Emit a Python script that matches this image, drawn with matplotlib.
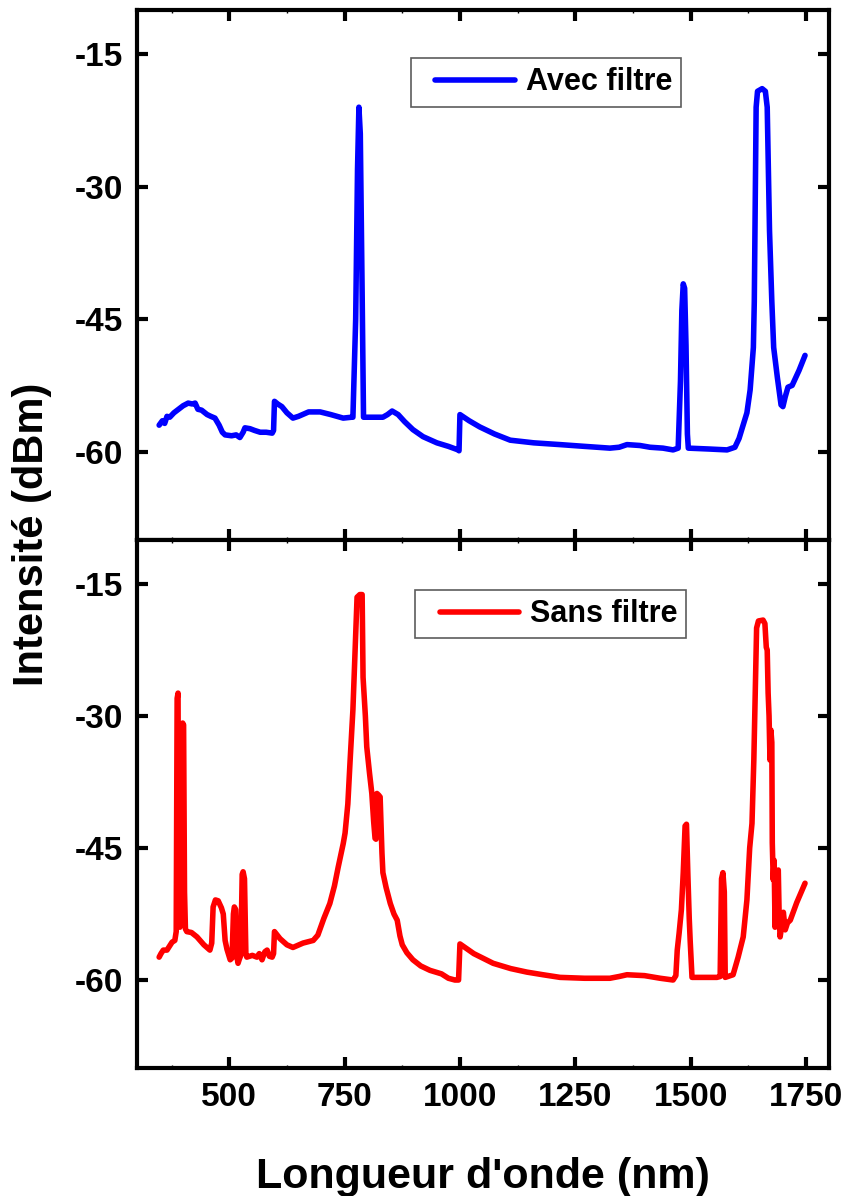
import matplotlib
matplotlib.use("Agg")
import matplotlib.pyplot as plt
from matplotlib.ticker import MultipleLocator
from matplotlib.legend_handler import HandlerLine2D

plt.rcParams["font.family"] = ["Liberation Sans", "DejaVu Sans"]
plt.rcParams["font.weight"] = "bold"
plt.rcParams["axes.unicode_minus"] = False

# spectre avec filtre (nm, dBm)
wl_avec = [348, 355, 360, 365, 371, 380, 390, 400, 411, 420, 426, 432, 440, 452,
           460, 469, 478, 485, 491, 505, 515, 523, 530, 534, 545, 555, 567, 580,
           593, 596, 598, 605, 614, 625, 638, 650, 672, 697, 720, 747, 765, 768,
           774, 778, 781, 784, 788, 791, 833, 843, 853, 866, 880, 898, 920, 950,
           975, 996, 998, 1000, 1020, 1043, 1075, 1109, 1160, 1217, 1270, 1325,
           1345, 1362, 1390, 1412, 1440, 1462, 1473, 1478, 1481, 1484, 1487, 1490,
           1493, 1495, 1540, 1579, 1596, 1605, 1612, 1622, 1629, 1636, 1638, 1642,
           1645, 1655, 1662, 1666, 1671, 1676, 1680, 1688, 1696, 1700, 1705, 1711,
           1720, 1735, 1748]
db_avec = [-57.0, -56.5, -56.8, -56.0, -56.1, -55.6, -55.2, -54.8, -54.5, -54.6,
           -54.5, -55.2, -55.3, -55.8, -56.0, -56.2, -57.0, -57.8, -58.1, -58.2,
           -58.1, -58.4, -57.8, -57.3, -57.4, -57.6, -57.8, -57.8, -57.9, -57.6,
           -54.3, -54.6, -54.9, -55.6, -56.2, -56.0, -55.5, -55.5, -55.8, -56.2,
           -56.1, -56.1, -45.0, -28.0, -21.0, -24.0, -42.0, -56.1, -56.1, -55.8,
           -55.4, -55.8, -56.6, -57.5, -58.3, -59.0, -59.4, -59.8, -59.9, -55.8,
           -56.5, -57.2, -58.0, -58.7, -59.0, -59.2, -59.4, -59.6, -59.5, -59.2,
           -59.3, -59.5, -59.6, -59.8, -59.6, -52.0, -44.0, -41.0, -41.5, -48.0,
           -58.0, -59.6, -59.7, -59.8, -59.5, -58.5, -57.3, -55.6, -53.0, -48.2,
           -43.0, -21.0, -19.2, -18.9, -19.2, -21.0, -35.0, -43.0, -48.2, -51.6,
           -54.7, -54.9, -53.8, -52.7, -52.5, -50.8, -49.1]

# spectre sans filtre (nm, dBm)
wl_sans = [348, 352, 357, 365, 370, 376, 382, 385, 387, 389, 390, 392, 393, 395,
           397, 399, 401, 403, 405, 408, 418, 430, 445, 458, 462, 465, 470, 476,
           483, 487, 491, 495, 502, 506, 509, 511, 514, 517, 519, 522, 525, 528,
           530, 533, 536, 538, 550, 560, 565, 571, 577, 582, 587, 593, 596, 598,
           610, 625, 638, 660, 682, 692, 705, 718, 728, 736, 747, 751, 757, 762,
           768, 773, 777, 783, 788, 790, 795, 798, 804, 809, 813, 816, 818, 820,
           824, 827, 831, 833, 840, 849, 857, 864, 870, 875, 885, 898, 915, 935,
           960, 975, 989, 997, 1000, 1030, 1072, 1110, 1145, 1180, 1217, 1270,
           1325, 1345, 1362, 1400, 1434, 1462, 1468, 1471, 1475, 1480, 1484, 1488,
           1491, 1494, 1497, 1499, 1503, 1530, 1557, 1564, 1567, 1570, 1573, 1575,
           1592, 1603, 1614, 1622, 1628, 1633, 1637, 1640, 1643, 1647, 1657, 1661,
           1664, 1666, 1668, 1670, 1672, 1674, 1676, 1677, 1679, 1681, 1683, 1686,
           1690, 1692, 1694, 1697, 1701, 1705, 1710, 1716, 1730, 1748]
db_sans = [-57.4, -57.0, -56.6, -56.6, -56.2, -55.7, -55.5, -54.5, -28.0, -27.4,
           -50.0, -35.0, -54.0, -31.0, -52.0, -30.8, -31.0, -50.0, -54.2, -54.5,
           -54.6, -55.1, -56.0, -56.6, -55.8, -51.7, -50.9, -51.0, -51.8, -52.5,
           -55.5, -56.5, -57.7, -57.5, -52.5, -51.7, -52.0, -57.5, -58.1, -57.6,
           -57.2, -48.0, -47.7, -48.5, -57.0, -57.4, -57.2, -57.4, -57.0, -57.7,
           -56.8, -56.6, -57.3, -57.4, -57.0, -54.5, -55.3, -56.0, -56.3, -55.8,
           -55.5, -54.9, -53.0, -51.3, -49.3, -47.2, -44.5, -43.3, -40.0, -35.0,
           -29.3, -22.0, -16.5, -16.2, -16.2, -25.6, -30.0, -33.5, -36.5, -38.8,
           -42.0, -43.9, -44.0, -38.8, -39.0, -39.2, -45.6, -47.8, -49.5, -51.3,
           -52.5, -53.2, -55.0, -56.0, -56.9, -57.7, -58.4, -58.9, -59.3, -59.8,
           -60.0, -60.0, -55.9, -57.0, -58.1, -58.7, -59.1, -59.4, -59.7, -59.8,
           -59.8, -59.6, -59.4, -59.5, -59.8, -60.0, -59.5, -56.6, -54.7, -52.0,
           -47.8, -42.5, -42.3, -48.0, -53.0, -55.5, -59.7, -59.7, -59.7, -59.6,
           -48.5, -47.8, -50.0, -59.7, -59.4, -57.4, -55.1, -50.9, -45.0, -42.2,
           -35.0, -27.4, -20.0, -19.2, -19.1, -19.5, -22.2, -22.5, -27.4, -30.0,
           -35.0, -31.6, -33.0, -44.4, -48.6, -46.4, -54.0, -48.0, -47.5, -53.0,
           -55.1, -54.0, -52.3, -54.3, -53.5, -53.2, -51.2, -49.0]

xticks = [500, 750, 1000, 1250, 1500, 1750]
yticks = [-15, -30, -45, -60]

fig = plt.figure(figsize=(8.42, 11.96), dpi=100)
ax_top = fig.add_axes([0.1627, 0.5485, 0.8219, 0.4431])
ax_bot = fig.add_axes([0.1627, 0.1070, 0.8219, 0.4415])


def style_axes(ax, show_xlabels):
    ax.set_xlim(300, 1800)
    ax.set_ylim(-70, -10)
    ax.set_xticks(xticks)
    ax.set_yticks(yticks)
    ax.xaxis.set_minor_locator(MultipleLocator(125))
    for s in ax.spines.values():
        s.set_linewidth(3)
    ax.tick_params(which="major", direction="in", length=8, width=3,
                   top=True, right=True, labelsize=24, pad=10)
    ax.tick_params(which="minor", direction="in", length=2.5, width=1,
                   top=True, right=True)
    ax.tick_params(axis="x", labelbottom=show_xlabels)
    for lab in ax.get_xticklabels() + ax.get_yticklabels():
        lab.set_fontweight("bold")


ax_top.plot(wl_avec, db_avec, color="#0000ff", lw=4, label="Avec filtre",
            solid_joinstyle="round", solid_capstyle="round")
ax_bot.plot(wl_sans, db_sans, color="#ff0000", lw=4, label="Sans filtre",
            solid_joinstyle="round", solid_capstyle="round")

style_axes(ax_top, False)
style_axes(ax_bot, True)

for ax, anchor in ((ax_top, (0.396, 0.909)), (ax_bot, (0.402, 0.905))):
    leg = ax.legend(loc="upper left", bbox_to_anchor=anchor, fancybox=False,
                    prop={"size": 22, "weight": "bold"}, handlelength=3.1,
                    handletextpad=0.35, borderpad=0.3, borderaxespad=0,
                    handler_map={ax.lines[0]: HandlerLine2D(xpad=0.5)})
    leg.get_frame().set_edgecolor("#333333")
    leg.get_frame().set_linewidth(1.2)

fig.text(0.038, 0.553, "Intensité (dBm)", rotation=90, ha="center", va="center",
         fontsize=30, fontweight="bold")
fig.text(0.5736, 0.0067, "Longueur d'onde (nm)", ha="center", va="baseline",
         fontsize=31, fontweight="bold")

fig.savefig("out.png", dpi=100)
